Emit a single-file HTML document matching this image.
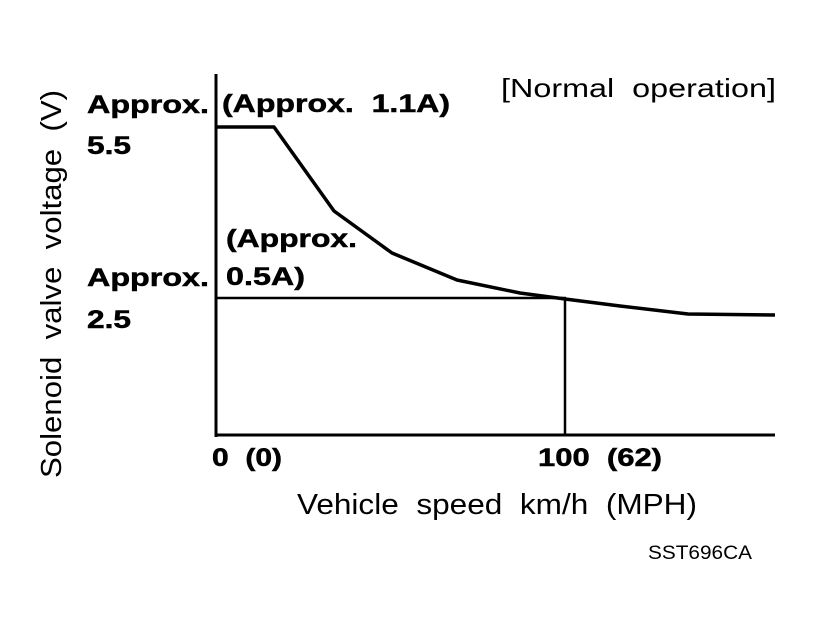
<!DOCTYPE html>
<html>
<head>
<meta charset="utf-8">
<style>
html,body{margin:0;padding:0;background:#fff;}
svg{display:block;}
text{font-family:"Liberation Sans",Arial,sans-serif;fill:#000;white-space:pre;}
.b{font-weight:bold;stroke:#000;stroke-width:0.5;}
</style>
</head>
<body>
<svg width="813" height="634" viewBox="0 0 813 634" xmlns="http://www.w3.org/2000/svg" xml:space="preserve">
<rect width="813" height="634" fill="#fff"/>
<!-- axes -->
<line x1="216" y1="74" x2="216" y2="437" stroke="#000" stroke-width="3"/>
<line x1="215" y1="435" x2="775" y2="435" stroke="#000" stroke-width="3"/>
<!-- reference lines -->
<line x1="216" y1="298" x2="566" y2="298" stroke="#000" stroke-width="2.5"/>
<line x1="565" y1="298" x2="565" y2="435" stroke="#000" stroke-width="2.5"/>
<!-- curve -->
<polyline points="216,127 274,127 334,211 392,253 457,280 520,293 565,299 620,306 688,314 775,315" fill="none" stroke="#000" stroke-width="3.5" stroke-linejoin="round"/>

<!-- left labels -->
<text class="b" x="87" y="113" font-size="25" textLength="122" lengthAdjust="spacingAndGlyphs">Approx.</text>
<text class="b" x="87" y="154" font-size="25" textLength="44" lengthAdjust="spacingAndGlyphs">5.5</text>
<text class="b" x="87" y="286" font-size="25" textLength="122" lengthAdjust="spacingAndGlyphs">Approx.</text>
<text class="b" x="87" y="328" font-size="25" textLength="44" lengthAdjust="spacingAndGlyphs">2.5</text>

<!-- inner labels -->
<text class="b" x="222" y="112" font-size="25" textLength="228" lengthAdjust="spacingAndGlyphs">(Approx.  1.1A)</text>
<text class="b" x="226" y="247" font-size="25" textLength="131" lengthAdjust="spacingAndGlyphs">(Approx.</text>
<text class="b" x="226" y="285" font-size="25" textLength="79" lengthAdjust="spacingAndGlyphs">0.5A)</text>

<text x="501" y="97" font-size="26" textLength="275" lengthAdjust="spacingAndGlyphs">[Normal  operation]</text>

<!-- x tick labels -->
<text class="b" x="212" y="466" font-size="25" textLength="70" lengthAdjust="spacingAndGlyphs">0  (0)</text>
<text class="b" x="538" y="466" font-size="25" textLength="124" lengthAdjust="spacingAndGlyphs">100  (62)</text>

<!-- axis titles -->
<text x="297" y="514" font-size="29" textLength="400" lengthAdjust="spacingAndGlyphs">Vehicle  speed  km/h  (MPH)</text>
<text transform="translate(61,478) rotate(-90)" font-size="29" textLength="388" lengthAdjust="spacingAndGlyphs">Solenoid  valve  voltage  (V)</text>

<text x="648" y="559" font-size="19" textLength="104" lengthAdjust="spacingAndGlyphs">SST696CA</text>
</svg>
</body>
</html>
